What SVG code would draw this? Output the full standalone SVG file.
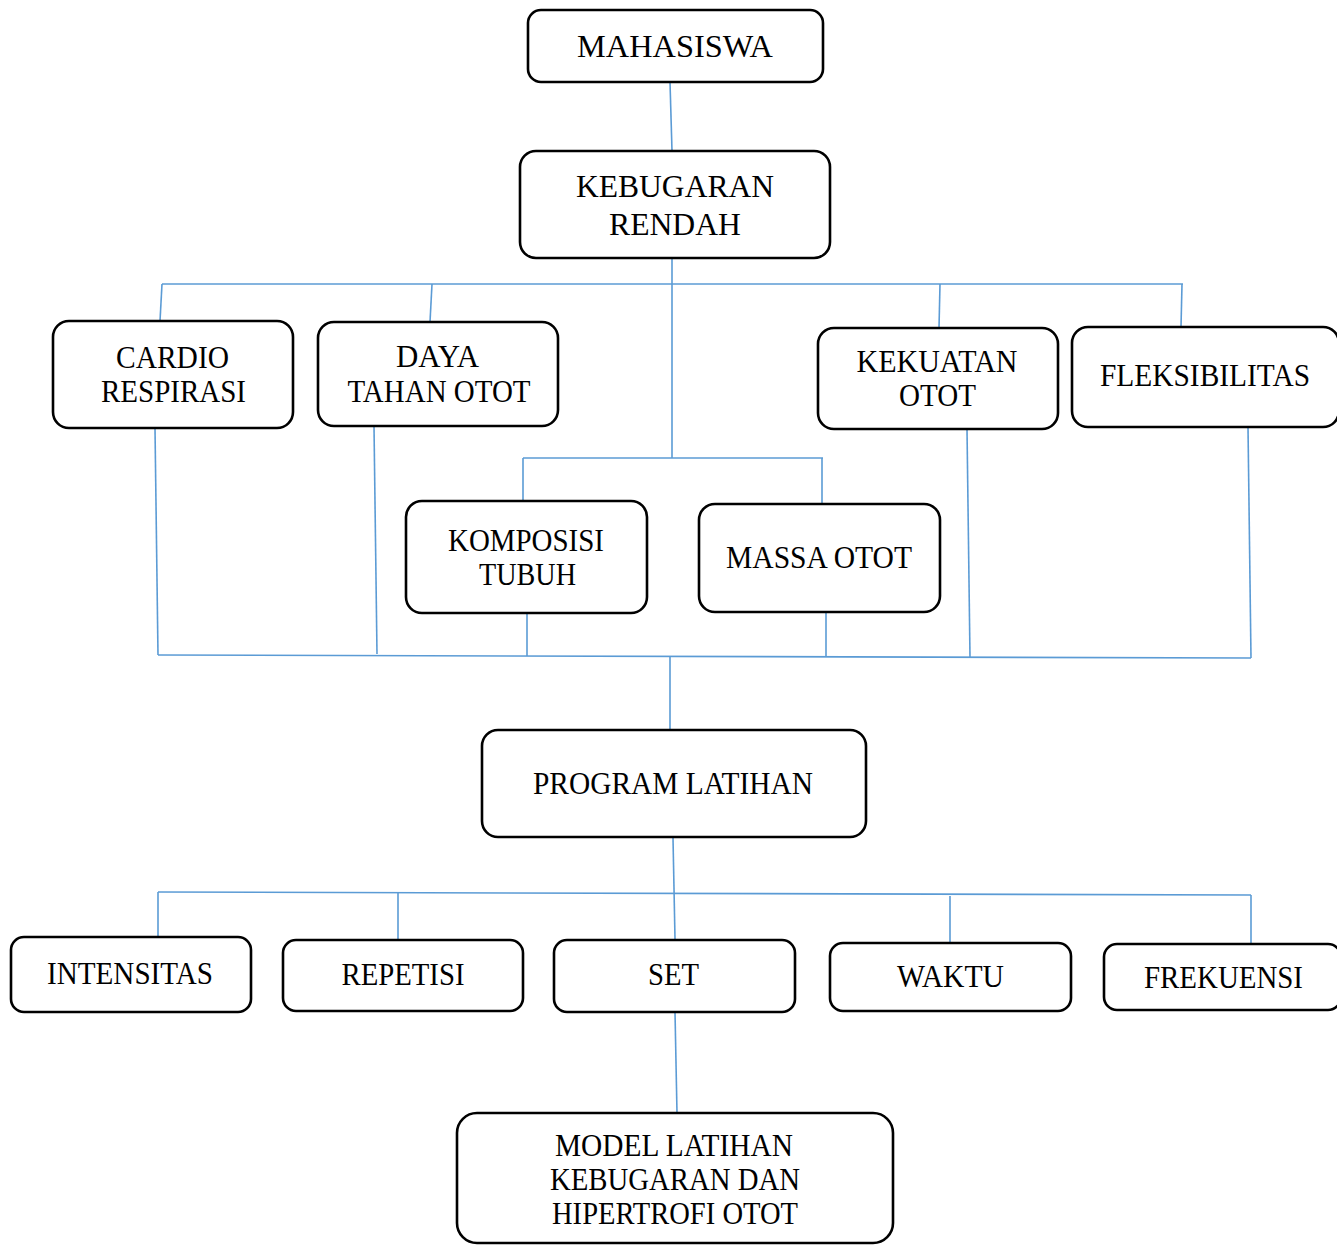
<svg xmlns="http://www.w3.org/2000/svg" width="1337" height="1245" viewBox="0 0 1337 1245">
<style>
.box{fill:#fff;stroke:#000;stroke-width:2.6}
.t{font-family:"Liberation Serif","Times New Roman",serif;font-size:31px;fill:#000;text-anchor:middle}
.c line{stroke:#5B9BD5;stroke-width:1.6;fill:none}
</style>
<rect width="1337" height="1245" fill="#fff"/>
<g class="c" id="connectors">
<line x1="670" y1="82" x2="672" y2="151"/>
<line x1="162" y1="284" x2="1183" y2="284"/>
<line x1="162" y1="284" x2="160" y2="321"/>
<line x1="432" y1="284" x2="430" y2="322"/>
<line x1="940" y1="284" x2="939" y2="328"/>
<line x1="1182" y1="284" x2="1181" y2="327"/>
<line x1="672" y1="258" x2="672" y2="458"/>
<line x1="523" y1="458" x2="823" y2="458"/>
<line x1="523" y1="458" x2="523" y2="501"/>
<line x1="822" y1="458" x2="822" y2="504"/>
<line x1="155" y1="428" x2="158" y2="655"/>
<line x1="374" y1="426" x2="377" y2="654"/>
<line x1="527" y1="613" x2="527" y2="656"/>
<line x1="826" y1="612" x2="826" y2="657"/>
<line x1="967" y1="429" x2="970" y2="657"/>
<line x1="1248" y1="427" x2="1251" y2="658"/>
<line x1="158" y1="655" x2="1251" y2="658"/>
<line x1="670" y1="657" x2="670" y2="730"/>
<line x1="673" y1="838" x2="675" y2="939"/>
<line x1="158" y1="892" x2="1251" y2="895"/>
<line x1="158" y1="892" x2="158" y2="936"/>
<line x1="398" y1="893" x2="398" y2="939"/>
<line x1="950" y1="896" x2="950" y2="942"/>
<line x1="1251" y1="895" x2="1251" y2="943"/>
<line x1="675" y1="1012" x2="677" y2="1113"/>
</g>
<g id="mahasiswa"><rect class="box" x="528" y="10" width="295" height="72" rx="13"/><text class="t" x="675" y="57" textLength="196" lengthAdjust="spacingAndGlyphs">MAHASISWA</text></g>
<g id="kebugaran"><rect class="box" x="520" y="151" width="310" height="107" rx="16"/><text class="t" x="675" y="197" textLength="198" lengthAdjust="spacingAndGlyphs">KEBUGARAN</text><text class="t" x="675" y="235" textLength="132" lengthAdjust="spacingAndGlyphs">RENDAH</text></g>
<g id="cardio"><rect class="box" x="53" y="321" width="240" height="107" rx="16"/><text class="t" x="172.5" y="368" textLength="113" lengthAdjust="spacingAndGlyphs">CARDIO</text><text class="t" x="173.5" y="402" textLength="145" lengthAdjust="spacingAndGlyphs">RESPIRASI</text></g>
<g id="daya"><rect class="box" x="318" y="322" width="240" height="104" rx="16"/><text class="t" x="437.5" y="367" textLength="83" lengthAdjust="spacingAndGlyphs">DAYA</text><text class="t" x="439" y="402" textLength="183" lengthAdjust="spacingAndGlyphs">TAHAN OTOT</text></g>
<g id="kekuatan"><rect class="box" x="818" y="328" width="240" height="101" rx="16"/><text class="t" x="937" y="372" textLength="161" lengthAdjust="spacingAndGlyphs">KEKUATAN</text><text class="t" x="937.5" y="406" textLength="77" lengthAdjust="spacingAndGlyphs">OTOT</text></g>
<g id="fleksibilitas"><rect class="box" x="1072" y="327" width="267" height="100" rx="16"/><text class="t" x="1205" y="386" textLength="210" lengthAdjust="spacingAndGlyphs">FLEKSIBILITAS</text></g>
<g id="komposisi"><rect class="box" x="406" y="501" width="241" height="112" rx="16"/><text class="t" x="526" y="551" textLength="156" lengthAdjust="spacingAndGlyphs">KOMPOSISI</text><text class="t" x="527.5" y="585" textLength="97" lengthAdjust="spacingAndGlyphs">TUBUH</text></g>
<g id="massa"><rect class="box" x="699" y="504" width="241" height="108" rx="16"/><text class="t" x="819" y="568" textLength="186" lengthAdjust="spacingAndGlyphs">MASSA OTOT</text></g>
<g id="program"><rect class="box" x="482" y="730" width="384" height="107" rx="16"/><text class="t" x="673" y="794" textLength="280" lengthAdjust="spacingAndGlyphs">PROGRAM LATIHAN</text></g>
<g id="intensitas"><rect class="box" x="11" y="937" width="240" height="75" rx="13"/><text class="t" x="130" y="984" textLength="166" lengthAdjust="spacingAndGlyphs">INTENSITAS</text></g>
<g id="repetisi"><rect class="box" x="283" y="940" width="240" height="71" rx="13"/><text class="t" x="403" y="985" textLength="123" lengthAdjust="spacingAndGlyphs">REPETISI</text></g>
<g id="set"><rect class="box" x="554" y="940" width="241" height="72" rx="13"/><text class="t" x="673.5" y="985" textLength="51" lengthAdjust="spacingAndGlyphs">SET</text></g>
<g id="waktu"><rect class="box" x="830" y="943" width="241" height="68" rx="13"/><text class="t" x="950.5" y="987" textLength="107" lengthAdjust="spacingAndGlyphs">WAKTU</text></g>
<g id="frekuensi"><rect class="box" x="1104" y="944" width="237" height="66" rx="13"/><text class="t" x="1223.5" y="988" textLength="159" lengthAdjust="spacingAndGlyphs">FREKUENSI</text></g>
<g id="model"><rect class="box" x="457" y="1113" width="436" height="130" rx="20"/><text class="t" x="674" y="1156" textLength="238" lengthAdjust="spacingAndGlyphs">MODEL LATIHAN</text><text class="t" x="675" y="1190" textLength="250" lengthAdjust="spacingAndGlyphs">KEBUGARAN DAN</text><text class="t" x="675" y="1224" textLength="246" lengthAdjust="spacingAndGlyphs">HIPERTROFI OTOT</text></g>
</svg>
